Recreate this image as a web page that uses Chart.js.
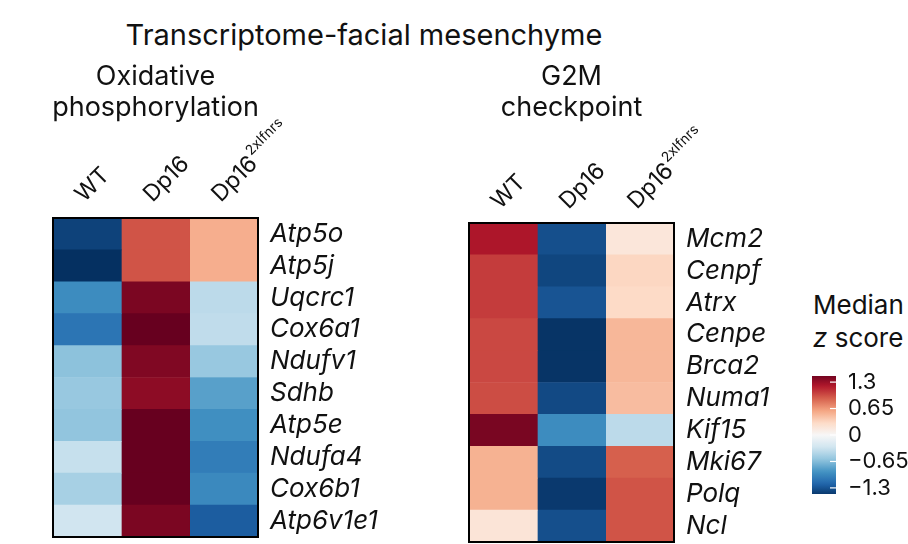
<!DOCTYPE html>
<html><head><meta charset="utf-8">
<script src="https://cdn.jsdelivr.net/npm/chart.js@4.4.1/dist/chart.umd.min.js"></script>
<style>
body{margin:0;width:908px;height:544px;overflow:hidden;background:#fff;font-family:Inter,"Noto Sans",sans-serif;color:#111;}
.abs{position:absolute;}
#title{left:64px;width:600px;top:15px;text-align:center;font-size:29px;line-height:40px;white-space:nowrap;}
#leg{left:813px;top:288px;font-size:26px;line-height:33px;white-space:nowrap;}
</style></head>
<body>
<div id="title" class="abs">Transcriptome-facial mesenchyme</div>
<div id="leg" class="abs">Median<br><i>z</i> score</div>
<canvas id="c1" class="abs" style="left:0;top:0" width="400" height="544"></canvas>
<canvas id="c2" class="abs" style="left:410px;top:0" width="390" height="544"></canvas>
<canvas id="c3" class="abs" style="left:800px;top:340px" width="108" height="204"></canvas>
<script>
// ---- data ----
const conditions = ["WT", "Dp16", "Dp16"];
const conditionSup = ["", "", "2xIfnrs"];

const oxphosTitle = ["Oxidative", "phosphorylation"];
const oxphosGenes = ["Atp5o","Atp5j","Uqcrc1","Cox6a1","Ndufv1","Sdhb","Atp5e","Ndufa4","Cox6b1","Atp6v1e1"];
const oxphosWT    = [-1.40,-1.50,-0.95,-1.10,-0.62,-0.57,-0.60,-0.35,-0.50,-0.30];
const oxphosDp16  = [ 0.95, 0.95, 1.42, 1.50, 1.40, 1.35, 1.50, 1.50, 1.50, 1.42];
const oxphosDp16I = [ 0.55, 0.55,-0.40,-0.38,-0.57,-0.82,-0.93,-1.05,-0.97,-1.25];

const g2mTitle = ["G2M", "checkpoint"];
const g2mGenes = ["Mcm2","Cenpf","Atrx","Cenpe","Brca2","Numa1","Kif15","Mki67","Polq","Ncl"];
const g2mWT    = [ 1.22, 1.05, 1.05, 1.00, 1.00, 0.98, 1.43, 0.53, 0.53, 0.20];
const g2mDp16  = [-1.33,-1.38,-1.30,-1.48,-1.48,-1.36,-0.95,-1.35,-1.45,-1.33];
const g2mDp16I = [ 0.18, 0.32, 0.30, 0.50, 0.50, 0.47,-0.40, 0.90, 0.95, 0.95];

const legendTicks = [1.3, 0.65, 0, -0.65, -1.3];
const legendLabels = ["1.3", "0.65", "0", "\u22120.65", "\u22121.3"];
const legendRange = [-1.45, 1.45];

// ---- colour map (RdBu reversed) ----
const stops = ["#053061","#2166ac","#4393c3","#92c5de","#d1e5f0","#f7f7f7","#fddbc7","#f4a582","#d6604d","#b2182b","#67001f"];
const VMIN = -1.5, VMAX = 1.5;
function hex2rgb(h){return [parseInt(h.slice(1,3),16),parseInt(h.slice(3,5),16),parseInt(h.slice(5,7),16)];}
function colorFor(v){
  let t = (v - VMIN)/(VMAX - VMIN); t = Math.max(0, Math.min(1, t));
  const p = t*(stops.length-1); const i = Math.min(Math.floor(p), stops.length-2); const f = p - i;
  const a = hex2rgb(stops[i]), b = hex2rgb(stops[i+1]);
  return `rgb(${Math.round(a[0]+(b[0]-a[0])*f)},${Math.round(a[1]+(b[1]-a[1])*f)},${Math.round(a[2]+(b[2]-a[2])*f)})`;
}

const FONT = 'Inter, "Noto Sans", sans-serif';

const decor = {
  id: 'decor',
  afterDraw(chart, args, o){
    const {ctx, chartArea:a, scales:{x}} = chart;
    ctx.save();
    ctx.strokeStyle = '#000'; ctx.lineWidth = 2;
    ctx.strokeRect(a.left, a.top, a.right - a.left, a.bottom - a.top);
    ctx.fillStyle = '#111';
    ctx.font = '27px ' + FONT; ctx.textAlign = 'center'; ctx.textBaseline = 'middle';
    o.title.forEach((t,i) => ctx.fillText(t, (a.left + a.right)/2, o.titleY + i*31));
    conditions.forEach((c,i) => {
      const cx = x.getPixelForValue(i + 0.5);
      ctx.save();
      ctx.translate(cx + o.dx, a.top + o.dy);
      ctx.rotate(-Math.PI/4);
      ctx.textAlign = 'left'; ctx.textBaseline = 'alphabetic';
      ctx.font = '23px ' + FONT;
      ctx.fillText(c, 0, 0);
      if (conditionSup[i]) {
        const w = ctx.measureText(c).width;
        ctx.font = '14px ' + FONT;
        ctx.fillText(conditionSup[i], w + 1, -12);
      }
      ctx.restore();
    });
    ctx.restore();
  }
};

function heatmap(id, genes, cols, title, pad, axisW, titleY, dx, dy){
  return new Chart(document.getElementById(id), {
    type: 'bar',
    data: {
      labels: genes,
      datasets: cols.map((vals, j) => ({
        label: conditions[j] + conditionSup[j],
        data: vals.map(() => 1),
        backgroundColor: vals.map(colorFor),
        borderWidth: 0,
        barPercentage: 1, categoryPercentage: 1
      }))
    },
    options: {
      indexAxis: 'y', responsive: false, animation: false,
      layout: {padding: pad},
      plugins: {legend: {display: false}, tooltip: {enabled: false}, title: {display: false},
        decor: {title, titleY, dx, dy}},
      scales: {
        x: {stacked: true, min: 0, max: 3, display: false},
        y: {stacked: true, position: 'right',
            grid: {display: false, drawTicks: false}, border: {display: false},
            ticks: {color: '#111', padding: 12, autoSkip: false, font: {family: FONT, size: 26, style: 'italic'}},
            afterFit: s => { s.width = axisW; s.paddingTop = 0; s.paddingBottom = 0; }}
      }
    },
    plugins: [decor]
  });
}

heatmap('c1', oxphosGenes, [oxphosWT, oxphosDp16, oxphosDp16I], oxphosTitle,
  {left: 53, top: 218, bottom: 7, right: 0}, 142, 77, -3, -15);
heatmap('c2', g2mGenes, [g2mWT, g2mDp16, g2mDp16I], g2mTitle,
  {left: 59, top: 223, bottom: 2, right: 0}, 126, 77, -3, -13);

// ---- colour bar ----
const barTicks = {
  id: 'barTicks',
  afterDatasetsDraw(chart){
    const {ctx, chartArea:a, scales:{y}} = chart;
    ctx.save(); ctx.strokeStyle = '#fff'; ctx.lineWidth = 1.2;
    legendTicks.forEach(v => { const py = y.getPixelForValue(v); ctx.beginPath(); ctx.moveTo(a.right - 6, py); ctx.lineTo(a.right, py); ctx.stroke(); });
    ctx.restore();
  }
};
new Chart(document.getElementById('c3'), {
  type: 'bar',
  data: {labels: ['z'], datasets: [{
    data: [legendRange],
    borderWidth: 0, barPercentage: 1, categoryPercentage: 1,
    backgroundColor: (c) => {
      const ch = c.chart; if (!ch.chartArea) return '#fff';
      const y = ch.scales.y;
      const y0 = y.getPixelForValue(legendRange[0]), y1 = y.getPixelForValue(legendRange[1]);
      const g = ch.ctx.createLinearGradient(0, y0, 0, y1);
      for (let k = 0; k <= 40; k++) {
        const v = legendRange[0] + (legendRange[1]-legendRange[0])*k/40;
        g.addColorStop(k/40, colorFor(v));
      }
      return g;
    }
  }]},
  options: {
    responsive: false, animation: false,
    layout: {padding: {left: 12, top: 36, bottom: 50, right: 0}},
    plugins: {legend: {display: false}, tooltip: {enabled: false}},
    scales: {
      x: {display: false},
      y: {position: 'right', min: legendRange[0], max: legendRange[1],
          grid: {display: false, drawTicks: false}, border: {display: false},
          afterBuildTicks: s => { s.ticks = legendTicks.map(v => ({value: v})); },
          ticks: {color: '#111', padding: 12, autoSkip: false, font: {family: FONT, size: 22},
                  callback: (v, i) => legendLabels[i]},
          afterFit: s => { s.width = 72; s.paddingTop = 0; s.paddingBottom = 0; }}
    }
  },
  plugins: [barTicks]
});
</script>
</body></html>
